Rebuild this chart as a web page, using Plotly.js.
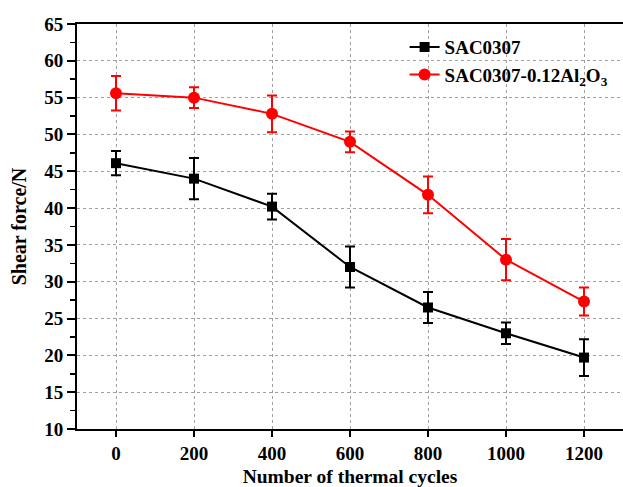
<!DOCTYPE html>
<html>
<head>
<meta charset="utf-8">
<script src="https://cdn.plot.ly/plotly-3.0.1.min.js"></script>
<style>html,body{margin:0;padding:0;background:#fff;}#chart{width:623px;height:487px;}</style>
</head>
<body>
<div id="chart"></div>
<script>
const cycles = [0, 200, 400, 600, 800, 1000, 1200];
const sacForce = [46.1, 44.0, 40.2, 32.0, 26.5, 23.0, 19.7];
const sacErr = [1.65, 2.8, 1.75, 2.8, 2.1, 1.45, 2.5];
const alForce = [55.6, 55.0, 52.8, 49.0, 41.8, 33.0, 27.3];
const alErr = [2.35, 1.4, 2.5, 1.4, 2.5, 2.8, 1.9];
const seriesNames = ["SAC0307", "SAC0307-0.12Al<sub>2</sub>O<sub>3</sub>"];

const font = "'Liberation Serif', 'Times New Roman', serif";

const traces = [
  {
    x: cycles, y: sacForce, name: seriesNames[0], type: 'scatter', mode: 'lines+markers',
    line: {color: '#000000', width: 2},
    marker: {symbol: 'square', size: 10, color: '#000000'},
    error_y: {type: 'data', array: sacErr, visible: true, color: '#000000', thickness: 2, width: 5}
  },
  {
    x: cycles, y: alForce, name: seriesNames[1], type: 'scatter', mode: 'lines+markers',
    line: {color: '#ff0000', width: 2},
    marker: {symbol: 'circle', size: 12, color: '#ff0000'},
    error_y: {type: 'data', array: alErr, visible: true, color: '#ff0000', thickness: 2, width: 5}
  }
];

const layout = {
  width: 623, height: 487,
  margin: {l: 77, r: 0, t: 24, b: 58},
  paper_bgcolor: '#ffffff', plot_bgcolor: '#ffffff',
  font: {family: font, color: '#000000', size: 19, weight: 'bold'},
  showlegend: true,
  legend: {
    x: 0.60, y: 0.99, xanchor: 'left', yanchor: 'top',
    bgcolor: 'rgba(0,0,0,0)', borderwidth: 0,
    font: {family: font, size: 19, color: '#000', weight: 'bold'},
    itemwidth: 30, tracegroupgap: 0
  },
  xaxis: {
    range: [-100, 1300],
    tickvals: cycles,
    ticks: 'outside', ticklen: 6, tickwidth: 2, tickcolor: '#000',
    showline: true, linecolor: '#000', linewidth: 2, mirror: true,
    showgrid: true, gridcolor: '#a0a0a0', griddash: '3px,3px', gridwidth: 1,
    zeroline: false,
    tickfont: {family: font, size: 19, color: '#000', weight: 'bold'},
    title: {text: 'Number of thermal cycles', font: {family: font, size: 19.5, color: '#000', weight: 'bold'}, standoff: 8}
  },
  yaxis: {
    range: [10, 65],
    tick0: 10, dtick: 5,
    ticks: 'outside', ticklen: 8, tickwidth: 2, tickcolor: '#000',
    minor: {dtick: 2.5, ticks: 'outside', ticklen: 5, tickwidth: 1.5, tickcolor: '#000', showgrid: false},
    showline: true, linecolor: '#000', linewidth: 2, mirror: false,
    showgrid: true, gridcolor: '#a0a0a0', griddash: '3px,3px', gridwidth: 1,
    zeroline: false,
    tickfont: {family: font, size: 19, color: '#000', weight: 'bold'},
    title: {text: 'Shear force/N', font: {family: font, size: 20, color: '#000', weight: 'bold'}, standoff: 12}
  }
};

Plotly.newPlot('chart', traces, layout, {displayModeBar: false, staticPlot: true});
</script>
</body>
</html>
